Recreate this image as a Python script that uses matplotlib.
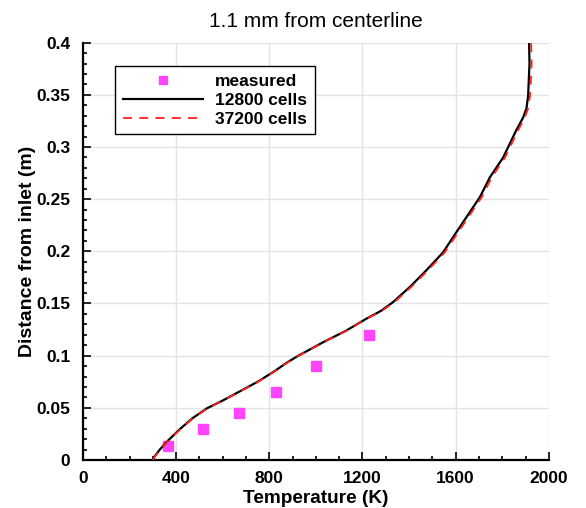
import matplotlib.pyplot as plt
from matplotlib.ticker import MultipleLocator

# measured points
meas_T = [365, 515, 670, 830, 1000, 1230]
meas_y = [0.013, 0.030, 0.045, 0.065, 0.090, 0.120]

# 12800 cells
coarse_T = [300, 306, 330, 360, 418, 470, 532, 600, 675, 750, 818, 880, 925,
            1032, 1130, 1218, 1280, 1332, 1404, 1475, 1546, 1590, 1647, 1704,
            1747, 1804, 1832, 1860, 1889, 1904, 1911, 1914, 1917, 1915]
coarse_y = [0.0, 0.003, 0.010, 0.0175, 0.030, 0.040, 0.0495, 0.057, 0.066,
            0.075, 0.0845, 0.094, 0.100, 0.113, 0.124, 0.1356, 0.143, 0.1515,
            0.166, 0.182, 0.199, 0.214, 0.233, 0.252, 0.271, 0.290, 0.303,
            0.316, 0.328, 0.337, 0.349, 0.365, 0.380, 0.400]

# 37200 cells
fine_T = [300, 307, 332, 362, 420, 472, 534, 602, 677, 752, 820, 882, 927,
          1034, 1132, 1220, 1284, 1338, 1410, 1482, 1553, 1598, 1655, 1712,
          1755, 1812, 1840, 1868, 1896, 1911, 1919, 1923, 1926, 1924]
fine_y = coarse_y

TITLE = "1.1 mm from centerline"

plt.rcParams['font.family'] = ['Liberation Sans', 'DejaVu Sans']

fig = plt.figure(figsize=(5.86, 5.08), dpi=100)
ax = fig.add_axes([0.1416, 0.0945, 0.795, 0.8215])

ax.plot(meas_T, meas_y, ls="none", marker="s", ms=7.5, color="#ff44ff",
        label="measured", zorder=3)
ax.plot(coarse_T, coarse_y, color="black", lw=1.6, label="12800 cells", zorder=4)
ax.plot(fine_T, fine_y, color="#ff2020", lw=1.3, ls=(0, (5, 4)),
        label="37200 cells", zorder=5)

ax.set_xlim(0, 2000)
ax.set_ylim(0, 0.4)
ax.xaxis.set_major_locator(MultipleLocator(400))
ax.xaxis.set_minor_locator(MultipleLocator(100))
ax.yaxis.set_minor_locator(MultipleLocator(0.01))
ax.set_yticks([0, 0.05, 0.1, 0.15, 0.2, 0.25, 0.3, 0.35, 0.4])
ax.set_yticklabels(["0", "0.05", "0.1", "0.15", "0.2", "0.25", "0.3", "0.35", "0.4"])

ax.grid(True, which="major", color="#e4e4e4", lw=1)
ax.set_axisbelow(True)
for s in ["top", "right"]:
    ax.spines[s].set_visible(False)
for s in ["left", "bottom"]:
    ax.spines[s].set_linewidth(1.6)

ax.tick_params(which="both", direction="in", labelsize=12.5, width=1.2)
ax.tick_params(which="major", length=6)
ax.tick_params(which="minor", length=3)
ax.tick_params(axis="y", which="major", pad=9)
ax.tick_params(axis="x", which="major", pad=8)
for lab in ax.get_xticklabels() + ax.get_yticklabels():
    lab.set_fontweight("bold")

ax.set_xlabel("Temperature (K)", fontsize=13.7, fontweight="bold", labelpad=3)
ax.set_ylabel("Distance from inlet (m)", fontsize=14, fontweight="bold", labelpad=0)
ax.set_title(TITLE, fontsize=15, pad=11)

leg = ax.legend(loc="upper left", bbox_to_anchor=(0.069, 0.943), borderaxespad=0,
                frameon=True, fancybox=False, edgecolor="black", framealpha=1,
                prop={"weight": "bold", "size": 12.5}, handlelength=4.6,
                markerscale=0.85, borderpad=0.45, labelspacing=0.2,
                handletextpad=0.7)
leg.get_frame().set_linewidth(1.0)

fig.savefig("out.png", dpi=100)
